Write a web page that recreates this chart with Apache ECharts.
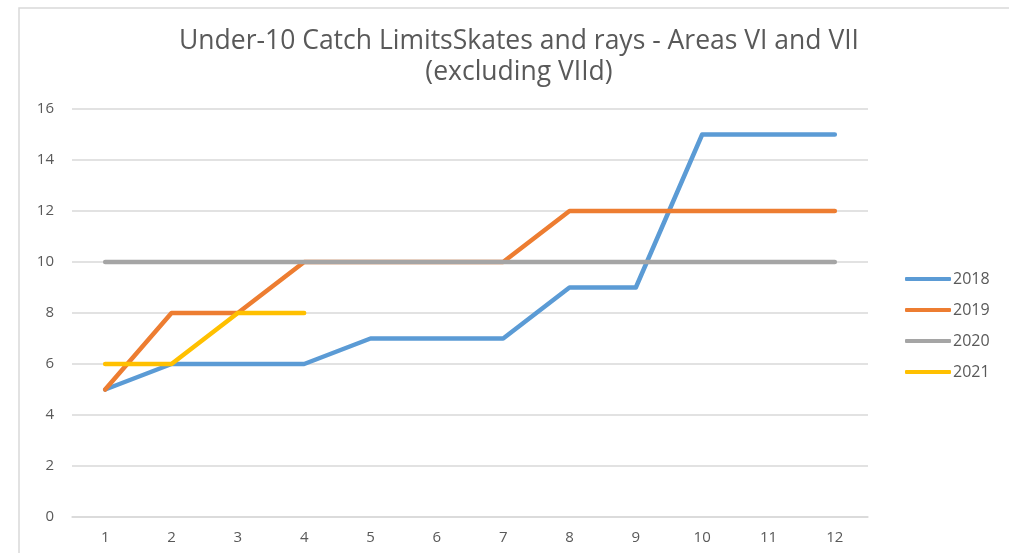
<!DOCTYPE html>
<html>
<head>
<meta charset="UTF-8">
<title>Under-10 Catch Limits</title>
<script src="https://cdn.jsdelivr.net/npm/echarts@6/dist/echarts.min.js"></script>
<style>
    body { margin: 0; padding: 0; background: #fff; }
    #main { width: 1009px; height: 553px; }
</style>
</head>
<body>
<div id="main"></div>
<script type="text/javascript">
    // data
    var months = ['1', '2', '3', '4', '5', '6', '7', '8', '9', '10', '11', '12'];
    var y2018 = [5, 6, 6, 6, 7, 7, 7, 9, 9, 15, 15, 15];
    var y2019 = [5, 8, 8, 10, 10, 10, 10, 12, 12, 12, 12, 12];
    var y2020 = [10, 10, 10, 10, 10, 10, 10, 10, 10, 10, 10, 10];
    var y2021 = [6, 6, 8, 8];

    var names = ['2018', '2019', '2020', '2021'];
    var colors = ['#5B9BD5', '#ED7D31', '#A5A5A5', '#FFC000'];
    var values = [y2018, y2019, y2020, y2021];

    var font = '"Open Sans", "Noto Sans", sans-serif';

    var series = [];
    for (var i = 0; i < names.length; i++) {
        series.push({
            name: names[i],
            type: 'line',
            data: values[i],
            symbol: 'none',
            lineStyle: { width: 4.5, color: colors[i], cap: 'round', join: 'round' },
            itemStyle: { color: colors[i] }
        });
    }

    var myChart = echarts.init(document.getElementById('main'));
    var option = {
        animation: false,
        title: {
            text: 'Under-10 Catch LimitsSkates and rays - Areas VI and VII\n(excluding VIId)',
            left: 514,
            textAlign: 'center',
            top: 21,
            textStyle: {
                fontFamily: font,
                fontSize: 26.5,
                fontWeight: 'normal',
                color: '#595959',
                lineHeight: 31
            }
        },
        legend: {
            orient: 'vertical',
            left: 900,
            top: 266,
            itemWidth: 46,
            itemHeight: 4,
            itemGap: 15,
            icon: 'roundRect',
            data: names,
            textStyle: { fontFamily: font, fontSize: 16, color: '#595959', padding: [0, 0, 0, -3] }
        },
        grid: { left: 72, right: 141, top: 109, bottom: 36 },
        xAxis: {
            type: 'category',
            data: months,
            boundaryGap: true,
            axisLine: { lineStyle: { color: '#D9D9D9', width: 1.5 } },
            axisTick: { show: false },
            axisLabel: { fontFamily: font, fontSize: 15, color: '#595959', margin: 13 }
        },
        yAxis: {
            type: 'value',
            min: 0,
            max: 16,
            interval: 2,
            axisLine: { show: false },
            axisTick: { show: false },
            axisLabel: { fontFamily: font, fontSize: 15, color: '#595959', margin: 18 },
            splitLine: { lineStyle: { color: '#D9D9D9', width: 1.5 } }
        },
        graphic: [{
            type: 'rect',
            shape: { x: 19, y: 8, width: 1200, height: 700 },
            style: { fill: null, stroke: '#D9D9D9', lineWidth: 1.5 },
            silent: true
        }],
        series: series
    };
    myChart.setOption(option);
</script>
</body>
</html>
